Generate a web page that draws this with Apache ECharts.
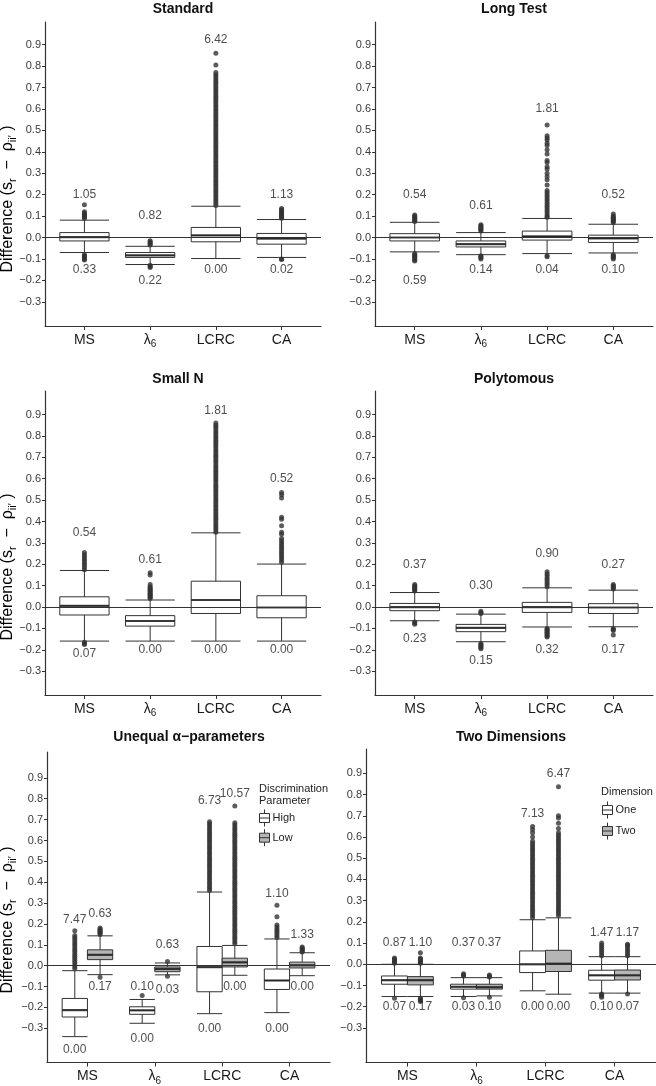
<!DOCTYPE html>
<html><head><meta charset="utf-8">
<script src="https://cdn.jsdelivr.net/npm/echarts@6/dist/echarts.min.js"></script>
<style>html,body{margin:0;padding:0;background:#fff}#c{width:656px;height:1086px}</style>
</head><body><div id="c"></div>
<script>
// ---------------- DATA ----------------
const categories = ['MS', 'λ|6', 'LCRC', 'CA'];   // "|" marks a subscript
const yTicks = [-0.3, -0.2, -0.1, 0, 0.1, 0.2, 0.3, 0.4, 0.5, 0.6, 0.7, 0.8, 0.9];
const panelTitles = ['Standard', 'Long Test', 'Small N', 'Polytomous', 'Unequal α\u2212parameters', 'Two Dimensions'];

// box stats: [lower whisker, Q1, median, Q3, upper whisker]
// Standard
const stdBoxes = [[-0.070, -0.016, 0.002, 0.023, 0.081], [-0.126, -0.093, -0.083, -0.070, -0.041], [-0.098, -0.020, 0.010, 0.047, 0.146], [-0.093, -0.031, -0.005, 0.019, 0.084]];
const stdOutliers = [
  [0.09, 0.095, 0.10, 0.105, 0.11, 0.115, 0.12, 0.153, -0.08, -0.085, -0.09, -0.095, -0.10, -0.105],
  [-0.015, -0.02, -0.025, -0.03, -0.035, -0.13, -0.135, -0.14],
  [0.15, 0.16, 0.17, 0.18, 0.19, 0.20, 0.21, 0.22, 0.23, 0.24, 0.25, 0.26, 0.27, 0.28, 0.29, 0.30, 0.31, 0.32, 0.33, 0.34, 0.35, 0.36, 0.37, 0.38, 0.39, 0.40, 0.41, 0.42, 0.43, 0.44, 0.45, 0.46, 0.47, 0.48, 0.49, 0.50, 0.51, 0.52, 0.53, 0.54, 0.55, 0.56, 0.57, 0.58, 0.59, 0.60, 0.61, 0.62, 0.63, 0.64, 0.65, 0.66, 0.67, 0.68, 0.69, 0.70, 0.71, 0.72, 0.73, 0.74, 0.75, 0.76, 0.77, 0.805, 0.86],
  [0.09, 0.095, 0.10, 0.105, 0.11, 0.115, 0.12, 0.125, 0.13, 0.135, -0.10, -0.103]
];
const stdTopText = ['1.05', '0.82', '6.42', '1.13'];
const stdTopY = [0.20, 0.10, 0.925, 0.20];
const stdBotText = ['0.33', '0.22', '0.00', '0.02'];
const stdBotY = [-0.15, -0.20, -0.15, -0.15];

// Long Test
const longBoxes = [[-0.067, -0.016, 0.0, 0.018, 0.071], [-0.080, -0.044, -0.031, -0.016, 0.023], [-0.075, -0.012, 0.005, 0.030, 0.089], [-0.072, -0.023, -0.004, 0.011, 0.062]];
const longOutliers = [
  [0.075, 0.08, 0.085, 0.09, 0.095, 0.10, 0.105, -0.075, -0.08, -0.085, -0.09, -0.095, -0.10, -0.105, -0.11],
  [0.03, 0.035, 0.04, 0.045, 0.05, 0.055, 0.06, -0.085, -0.09, -0.095, -0.10],
  [0.095, 0.10, 0.11, 0.12, 0.13, 0.14, 0.15, 0.16, 0.17, 0.18, 0.19, 0.20, 0.21, 0.22, 0.245, 0.27, 0.285, 0.30, 0.32, 0.33, 0.35, 0.36, 0.39, 0.41, 0.43, 0.44, 0.455, 0.465, 0.475, 0.525, -0.085, -0.09],
  [0.07, 0.075, 0.08, 0.085, 0.09, 0.095, 0.10, 0.11, -0.08, -0.085, -0.09, -0.095, -0.10]
];
const longTopText = ['0.54', '0.61', '1.81', '0.52'];
const longTopY = [0.20, 0.15, 0.60, 0.20];
const longBotText = ['0.59', '0.14', '0.04', '0.10'];
const longBotY = [-0.20, -0.15, -0.15, -0.15];

// Small N
const smallBoxes = [[-0.159, -0.037, 0.006, 0.048, 0.171], [-0.159, -0.089, -0.065, -0.040, 0.033], [-0.159, -0.030, 0.033, 0.121, 0.347], [-0.159, -0.050, -0.002, 0.053, 0.201]];
const smallOutliers = [
  [0.175, 0.185, 0.195, 0.205, 0.215, 0.225, 0.235, 0.245, 0.255, -0.165, -0.17, -0.175],
  [0.04, 0.045, 0.05, 0.055, 0.06, 0.065, 0.07, 0.075, 0.08, 0.085, 0.09, 0.095, 0.105, 0.15, 0.16],
  [0.35, 0.36, 0.37, 0.38, 0.39, 0.40, 0.41, 0.42, 0.43, 0.44, 0.45, 0.46, 0.47, 0.48, 0.49, 0.50, 0.51, 0.52, 0.53, 0.54, 0.55, 0.56, 0.57, 0.58, 0.59, 0.60, 0.61, 0.62, 0.63, 0.64, 0.65, 0.66, 0.67, 0.68, 0.69, 0.70, 0.71, 0.72, 0.73, 0.74, 0.75, 0.76, 0.77, 0.78, 0.79, 0.80, 0.81, 0.82, 0.83, 0.84, 0.85, 0.86],
  [0.21, 0.22, 0.23, 0.24, 0.25, 0.26, 0.27, 0.28, 0.29, 0.30, 0.31, 0.32, 0.34, 0.35, 0.38, 0.41, 0.42, 0.51, 0.525, 0.535]
];
const smallTopText = ['0.54', '0.61', '1.81', '0.52'];
const smallTopY = [0.35, 0.22, 0.92, 0.60];
const smallBotText = ['0.07', '0.00', '0.00', '0.00'];
const smallBotY = [-0.22, -0.20, -0.20, -0.20];

// Polytomous
const polyBoxes = [[-0.064, -0.017, 0.0, 0.017, 0.068], [-0.162, -0.115, -0.097, -0.081, -0.033], [-0.093, -0.025, 0.0, 0.022, 0.090], [-0.092, -0.030, -0.002, 0.016, 0.079]];
const polyOutliers = [
  [0.075, 0.08, 0.085, 0.09, 0.095, 0.10, 0.105, -0.07, -0.075, -0.08],
  [-0.02, -0.025, -0.03, -0.17, -0.175, -0.18, -0.185, -0.19, -0.195],
  [0.095, 0.105, 0.115, 0.125, 0.135, 0.145, 0.155, 0.165, -0.10, -0.105, -0.11, -0.115, -0.12, -0.125, -0.13, -0.135, -0.14],
  [0.085, 0.09, 0.095, 0.10, 0.105, -0.10, -0.105, -0.11, -0.13]
];
const polyTopText = ['0.37', '0.30', '0.90', '0.27'];
const polyTopY = [0.20, 0.10, 0.25, 0.20];
const polyBotText = ['0.23', '0.15', '0.32', '0.17'];
const polyBotY = [-0.15, -0.25, -0.20, -0.20];

// Unequal alpha-parameters (High / Low discrimination)
const uneqGroups = ['High', 'Low'];
const uneqHighBoxes = [[-0.340, -0.246, -0.213, -0.157, -0.024], [-0.276, -0.233, -0.214, -0.197, -0.162], [-0.230, -0.125, -0.007, 0.092, 0.353], [-0.225, -0.114, -0.071, -0.016, 0.128]];
const uneqHighOutliers = [
  [-0.015, -0.005, 0.005, 0.015, 0.025, 0.035, 0.045, 0.055, 0.065, 0.075, 0.085, 0.095, 0.105, 0.115, 0.125, 0.135, 0.145, 0.167],
  [-0.143],
  [0.36, 0.37, 0.38, 0.39, 0.40, 0.41, 0.42, 0.43, 0.44, 0.45, 0.46, 0.47, 0.48, 0.49, 0.50, 0.51, 0.52, 0.53, 0.54, 0.55, 0.56, 0.57, 0.58, 0.59, 0.60, 0.61, 0.62, 0.63, 0.64, 0.65, 0.66, 0.67, 0.68, 0.69],
  [0.135, 0.145, 0.155, 0.165, 0.175, 0.185, 0.195, 0.235, 0.29]
];
const uneqLowBoxes = [[-0.043, 0.029, 0.052, 0.076, 0.143], [-0.044, -0.029, -0.016, -0.006, 0.013], [-0.046, -0.006, 0.016, 0.036, 0.097], [-0.048, -0.011, 0.002, 0.017, 0.062]];
const uneqLowOutliers = [
  [0.15, 0.155, 0.16, 0.165, 0.17, 0.175, 0.18, -0.055],
  [0.02, -0.051],
  [0.105, 0.115, 0.125, 0.135, 0.145, 0.155, 0.165, 0.175, 0.185, 0.195, 0.205, 0.215, 0.225, 0.235, 0.245, 0.255, 0.265, 0.275, 0.285, 0.295, 0.305, 0.315, 0.325, 0.335, 0.345, 0.355, 0.365, 0.375, 0.385, 0.395, 0.405, 0.415, 0.425, 0.435, 0.445, 0.455, 0.465, 0.475, 0.485, 0.495, 0.505, 0.515, 0.525, 0.535, 0.545, 0.555, 0.565, 0.575, 0.585, 0.595, 0.605, 0.615, 0.625, 0.635, 0.645, 0.655, 0.665, 0.675, 0.685, 0.765],
  [0.065, 0.07, 0.075, 0.08, 0.085, 0.09]
];
const uneqHighTopText = ['7.47', '0.10', '6.73', '1.10'];
const uneqHighTopY = [0.22, -0.10, 0.79, 0.345];
const uneqHighBotText = ['0.00', '0.00', '0.00', '0.00'];
const uneqHighBotY = [-0.404, -0.352, -0.30, -0.30];
const uneqLowTopText = ['0.63', '0.63', '10.57', '1.33'];
const uneqLowTopY = [0.247, 0.10, 0.826, 0.147];
const uneqLowBotText = ['0.17', '0.03', '0.00', '0.00'];
const uneqLowBotY = [-0.103, -0.117, -0.103, -0.103];

// Two Dimensions (One / Two)
const dimGroups = ['One', 'Two'];
const dimOneBoxes = [[-0.152, -0.094, -0.075, -0.055, 0.0], [-0.152, -0.117, -0.106, -0.094, -0.063], [-0.125, -0.039, 0.0, 0.063, 0.210], [-0.136, -0.075, -0.052, -0.028, 0.036]];
const dimOneOutliers = [
  [0.005, 0.01, 0.015, 0.02, 0.025, 0.03, -0.16],
  [-0.045, -0.05, -0.055, -0.158],
  [0.22, 0.23, 0.24, 0.25, 0.26, 0.27, 0.28, 0.29, 0.30, 0.31, 0.32, 0.33, 0.34, 0.35, 0.36, 0.37, 0.38, 0.39, 0.40, 0.41, 0.42, 0.43, 0.44, 0.45, 0.46, 0.47, 0.48, 0.49, 0.50, 0.51, 0.52, 0.53, 0.54, 0.55, 0.56, 0.57, 0.58, 0.60, 0.62, 0.635, 0.65],
  [0.04, 0.05, 0.06, 0.07, 0.08, 0.09, 0.10, -0.14, -0.145, -0.15, -0.155]
];
const dimTwoBoxes = [[-0.152, -0.097, -0.075, -0.058, 0.0], [-0.149, -0.117, -0.108, -0.094, -0.063], [-0.141, -0.034, 0.003, 0.066, 0.219], [-0.136, -0.074, -0.052, -0.027, 0.036]];
const dimTwoOutliers = [
  [0.005, 0.01, 0.015, 0.02, 0.025, 0.03, 0.055, -0.16, -0.165, -0.17, -0.175],
  [-0.05, -0.055, -0.06, -0.155],
  [0.23, 0.24, 0.25, 0.26, 0.27, 0.28, 0.29, 0.30, 0.31, 0.32, 0.33, 0.34, 0.35, 0.36, 0.37, 0.38, 0.39, 0.40, 0.41, 0.42, 0.43, 0.44, 0.45, 0.46, 0.47, 0.48, 0.49, 0.50, 0.51, 0.52, 0.53, 0.54, 0.55, 0.56, 0.57, 0.58, 0.59, 0.60, 0.61, 0.62, 0.64, 0.665, 0.69, 0.70, 0.837],
  [0.04, 0.05, 0.06, 0.07, 0.08, 0.09, 0.095, -0.14]
];
const dimOneTopText = ['0.87', '0.37', '7.13', '1.47'];
const dimOneTopY = [0.10, 0.10, 0.71, 0.15];
const dimOneBotText = ['0.07', '0.03', '0.00', '0.10'];
const dimOneBotY = [-0.20, -0.20, -0.20, -0.20];
const dimTwoTopText = ['1.10', '0.37', '6.47', '1.17'];
const dimTwoTopY = [0.10, 0.10, 0.90, 0.15];
const dimTwoBotText = ['0.17', '0.10', '0.00', '0.07'];
const dimTwoBotY = [-0.20, -0.20, -0.20, -0.20];

// ---------------- LAYOUT / STYLE ----------------
const FONT = '"Liberation Sans", Arial, Helvetica, sans-serif';
const INK = '#333';
const FILL_A = '#ffffff';
const FILL_B = '#b5b5b5';
const panelRects = [
  { left: 45, top: 22, width: 276, height: 304, min: -0.413, max: 1.006 },
  { left: 375, top: 22, width: 278, height: 304, min: -0.413, max: 1.006 },
  { left: 45, top: 391, width: 276, height: 304, min: -0.411, max: 1.010 },
  { left: 375, top: 391, width: 278, height: 304, min: -0.411, max: 1.010 },
  { left: 47, top: 752, width: 283, height: 311, min: -0.464, max: 1.024 },
  { left: 366, top: 749, width: 290, height: 314, min: -0.463, max: 1.015 }
];
const titlePos = [[183, 9], [514, 9], [178, 379], [514, 379], [189, 737], [511, 737]];
const yTitlePos = [[8, 199], [8, 567], [8, 920]];

const panels = [
  [{ box: stdBoxes, out: stdOutliers, topT: stdTopText, topY: stdTopY, botT: stdBotText, botY: stdBotY, fill: FILL_A }],
  [{ box: longBoxes, out: longOutliers, topT: longTopText, topY: longTopY, botT: longBotText, botY: longBotY, fill: FILL_A }],
  [{ box: smallBoxes, out: smallOutliers, topT: smallTopText, topY: smallTopY, botT: smallBotText, botY: smallBotY, fill: FILL_A }],
  [{ box: polyBoxes, out: polyOutliers, topT: polyTopText, topY: polyTopY, botT: polyBotText, botY: polyBotY, fill: FILL_A }],
  [{ name: uneqGroups[0], box: uneqHighBoxes, out: uneqHighOutliers, topT: uneqHighTopText, topY: uneqHighTopY, botT: uneqHighBotText, botY: uneqHighBotY, fill: FILL_A },
   { name: uneqGroups[1], box: uneqLowBoxes, out: uneqLowOutliers, topT: uneqLowTopText, topY: uneqLowTopY, botT: uneqLowBotText, botY: uneqLowBotY, fill: FILL_B }],
  [{ name: dimGroups[0], box: dimOneBoxes, out: dimOneOutliers, topT: dimOneTopText, topY: dimOneTopY, botT: dimOneBotText, botY: dimOneBotY, fill: FILL_A },
   { name: dimGroups[1], box: dimTwoBoxes, out: dimTwoOutliers, topT: dimTwoTopText, topY: dimTwoTopY, botT: dimTwoBotText, botY: dimTwoBotY, fill: FILL_B }]
];

const grid = [], xAxis = [], yAxis = [], series = [];
const fmtTick = v => (v < 0 ? '\u2212' : '') + Math.abs(v).toFixed(1);
const fmtCat = v => {
  const parts = categories[Math.round(v) - 1].split('|');
  return '{m|' + parts[0] + '}' + (parts[1] ? '{s|' + parts[1] + '}' : '');
};
const catRich = {
  m: { fontSize: 14, color: '#1a1a1a', fontFamily: FONT, lineHeight: 16 },
  s: { fontSize: 10, color: '#1a1a1a', fontFamily: FONT, lineHeight: 10, padding: [9, 0, 0, 0] }
};

panels.forEach((groups, k) => {
  const r = panelRects[k];
  grid.push({ left: r.left, top: r.top, width: r.width, height: r.height });
  yAxis.push({
    type: 'value', gridIndex: k, min: r.min, max: r.max,
    splitLine: { show: false },
    axisLine: { show: true, onZero: false, lineStyle: { color: INK, width: 1.2 } },
    axisTick: { show: true, length: 3, customValues: yTicks, lineStyle: { color: INK } },
    axisLabel: { customValues: yTicks, formatter: fmtTick, fontSize: 11, color: '#3a3a3a', fontFamily: FONT, margin: 4 }
  });
  const dodged = groups.length > 1;
  const unit = r.width / 4.2;
  const bw = (dodged ? 0.375 : 0.75) * unit;
  groups.forEach((g, j) => {
    const xi = xAxis.length;
    const main = j === 0;
    xAxis.push({
      type: 'value', gridIndex: k, min: 0.4, max: 4.6, show: main,
      splitLine: { show: false },
      axisLine: { show: true, onZero: false, lineStyle: { color: INK, width: 1.2 } },
      axisTick: { show: true, length: 4, customValues: [1, 2, 3, 4], lineStyle: { color: INK } },
      axisLabel: { customValues: [1, 2, 3, 4], formatter: fmtCat, rich: catRich, margin: 6 }
    });
    const dodge = dodged ? (j === 0 ? -0.1875 : 0.1875) : 0;
    const xs = i => i + 1 + dodge;
    series.push({
      type: 'boxplot', name: g.name, xAxisIndex: xi, yAxisIndex: k,
      data: g.box.map((b, i) => [xs(i)].concat(b)),
      boxWidth: [bw, bw],
      itemStyle: { color: g.fill, borderColor: INK, borderWidth: 1 },
      emphasis: { disabled: true }, silent: true, z: 2
    });
    series.push({
      type: 'scatter', xAxisIndex: xi, yAxisIndex: k, symbol: 'rect', symbolSize: [bw, 2.2],
      data: g.box.map((b, i) => [xs(i), b[2]]),
      itemStyle: { color: '#222' }, silent: true, z: 3
    });
    const outs = [];
    g.out.forEach((arr, i) => arr.forEach(v => outs.push([xs(i), v])));
    series.push({
      type: 'scatter', xAxisIndex: xi, yAxisIndex: k, symbol: 'circle', symbolSize: 5,
      data: outs, itemStyle: { color: '#333' }, silent: true, z: 4
    });
    [[g.topT, g.topY], [g.botT, g.botY]].forEach(([txt, ys]) => {
      series.push({
        type: 'scatter', xAxisIndex: xi, yAxisIndex: k, symbolSize: 0, clip: false,
        data: ys.map((y, i) => [xs(i), y]),
        itemStyle: { color: 'transparent' }, silent: true, z: 5,
        label: { show: true, position: 'inside', formatter: p => txt[p.dataIndex], fontSize: 12, color: '#222', fontFamily: FONT }
      });
    });
    if (main) {
      series.push({
        type: 'line', xAxisIndex: xi, yAxisIndex: k, data: [], silent: true, z: 6,
        markLine: { silent: true, symbol: ['none', 'none'], label: { show: false },
          lineStyle: { color: INK, width: 1.1, type: 'solid' }, data: [{ yAxis: 0 }], animation: false }
      });
    }
  });
});

const legendIcon = 'path://M5,0V4M0,4H10V13H0ZM0,8.5H10M5,13V17';
const legends = [
  { names: uneqGroups, left: 259, top: 809, gap: 1.7 },
  { names: dimGroups, left: 602, top: 801, gap: 3 }
].map(l => ({
  data: l.names.map((n, i) => ({ name: n, itemStyle: { color: i === 0 ? FILL_A : FILL_B, borderColor: INK, borderWidth: 1 } })),
  left: l.left, top: l.top, orient: 'vertical', padding: 0,
  icon: legendIcon, itemWidth: 10, itemHeight: 17, itemGap: l.gap,
  textStyle: { fontSize: 11, color: '#222', fontFamily: FONT, padding: [0, 0, 0, -2] },
  selectedMode: false
}));

const yTitleRich = {
  t: { fontSize: 16, fontFamily: FONT, color: '#222', lineHeight: 18 },
  s: { fontSize: 11, fontFamily: FONT, color: '#222', lineHeight: 11, padding: [9, 0, 0, 0] }
};
const yTitleText = '{t|Difference (s}{s|r}{t|  \u2212  ρ}{s|ii′}{t| )}';

const graphic = [];
panelTitles.forEach((t, i) => graphic.push({
  type: 'text', x: titlePos[i][0], y: titlePos[i][1], silent: true,
  style: { text: t, fontSize: 14, fontWeight: 'bold', fontFamily: FONT, fill: '#111', align: 'center', verticalAlign: 'middle' }
}));
yTitlePos.forEach(p => graphic.push({
  type: 'text', x: p[0], y: p[1], rotation: Math.PI / 2, silent: true,
  style: { text: yTitleText, rich: yTitleRich, align: 'center', verticalAlign: 'middle' }
}));
graphic.push({ type: 'text', x: 259, y: 789, silent: true, style: { text: 'Discrimination', fontSize: 11, fontFamily: FONT, fill: '#222', align: 'left', verticalAlign: 'middle' } });
graphic.push({ type: 'text', x: 259, y: 801, silent: true, style: { text: 'Parameter', fontSize: 11, fontFamily: FONT, fill: '#222', align: 'left', verticalAlign: 'middle' } });
graphic.push({ type: 'rect', shape: { x: 330, y: 781, width: 12, height: 14 }, style: { fill: '#fff' }, silent: true, z: 100 });
graphic.push({ type: 'text', x: 601, y: 792, silent: true, style: { text: 'Dimension', fontSize: 11, fontFamily: FONT, fill: '#222', align: 'left', verticalAlign: 'middle' } });

const chart = echarts.init(document.getElementById('c'), null, { renderer: 'canvas' });
chart.setOption({
  backgroundColor: '#fff', animation: false,
  textStyle: { fontFamily: FONT },
  grid, xAxis, yAxis, series, legend: legends, graphic
});
</script></body></html>
